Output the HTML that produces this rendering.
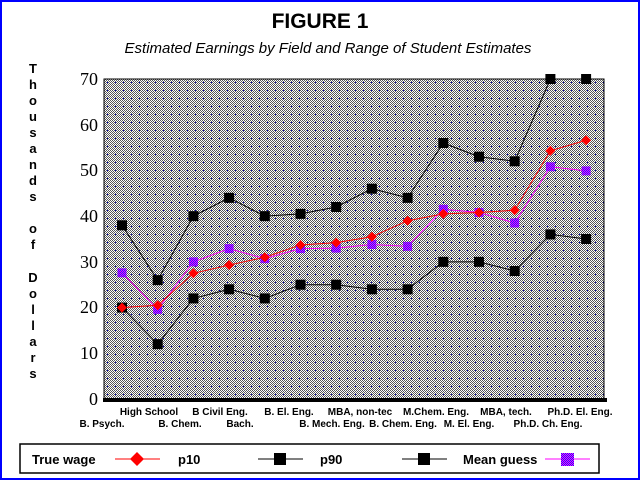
<!DOCTYPE html>
<html><head><meta charset="utf-8"><style>
html,body{margin:0;padding:0;background:#fff}
svg{display:block}
</style></head><body>
<svg width="640" height="480" viewBox="0 0 640 480" xmlns="http://www.w3.org/2000/svg">
<defs>
<pattern id="chk" width="2" height="2" patternUnits="userSpaceOnUse">
<rect width="2" height="2" fill="#ffffff"/><rect width="1" height="1" fill="#555"/><rect x="1" y="1" width="1" height="1" fill="#555"/>
</pattern>
<pattern id="dots" x="104" y="79" width="8" height="8" patternUnits="userSpaceOnUse">
<rect x="3" y="3" width="1" height="1" fill="#0000cc"/>
</pattern>
<pattern id="mchk" width="2" height="2" patternUnits="userSpaceOnUse">
<rect width="2" height="2" fill="#ff00ff"/><rect width="1" height="1" fill="#2020ff"/><rect x="1" y="1" width="1" height="1" fill="#2020ff"/>
</pattern>
</defs>
<rect x="1" y="1" width="638" height="478" fill="#fff" stroke="#0000ff" stroke-width="2"/>
<text x="320" y="28" font-family="Liberation Sans, sans-serif" font-weight="bold" font-size="21" text-anchor="middle">FIGURE 1</text>
<text x="328" y="53" font-family="Liberation Sans, sans-serif" font-style="italic" font-size="15" text-anchor="middle">Estimated Earnings by Field and Range of Student Estimates</text>
<g font-family="Liberation Sans, sans-serif" font-weight="bold" font-size="13" text-anchor="middle">
<text x="33" y="73">T</text><text x="33" y="89">h</text><text x="33" y="105">o</text><text x="33" y="121">u</text><text x="33" y="137">s</text><text x="33" y="153">a</text><text x="33" y="169">n</text><text x="33" y="185">d</text><text x="33" y="201">s</text>
<text x="33" y="233">o</text><text x="33" y="249">f</text>
<text x="33" y="282">D</text><text x="33" y="298">o</text><text x="33" y="314">l</text><text x="33" y="330">l</text><text x="33" y="346">a</text><text x="33" y="362">r</text><text x="33" y="378">s</text>
</g>
<rect x="104" y="79" width="500" height="320" fill="url(#chk)"/>
<rect x="104" y="79" width="500" height="320" fill="url(#dots)"/>
<rect x="104" y="79" width="500" height="320" fill="none" stroke="#000" stroke-width="1"/>
<rect x="103" y="398" width="504" height="4" fill="#000"/>
<g font-family="Liberation Serif, serif" font-size="18" text-anchor="end">
<text x="98" y="85">70</text><text x="98" y="131">60</text><text x="98" y="176">50</text><text x="98" y="222">40</text><text x="98" y="268">30</text><text x="98" y="313">20</text><text x="98" y="359">10</text><text x="98" y="405">0</text>
</g>
<g font-family="Liberation Sans, sans-serif" font-weight="bold" font-size="10" text-anchor="middle">
<text x="149" y="415">High School</text><text x="220" y="415">B Civil Eng.</text><text x="289" y="415">B. El. Eng.</text><text x="360" y="415">MBA, non-tec</text><text x="436" y="415">M.Chem. Eng.</text><text x="506" y="415">MBA, tech.</text><text x="580" y="415">Ph.D. El. Eng.</text>
<text x="102" y="427">B. Psych.</text><text x="180" y="427">B. Chem.</text><text x="240" y="427">Bach.</text><text x="332" y="427">B. Mech. Eng.</text><text x="403" y="427">B. Chem. Eng.</text><text x="469" y="427">M. El. Eng.</text><text x="548" y="427">Ph.D. Ch. Eng.</text>
</g>
<g id="series"></g>
<rect x="20" y="444" width="579" height="29" fill="#fff" stroke="#000" stroke-width="1.5"/>
<g font-family="Liberation Sans, sans-serif" font-weight="bold" font-size="13">
<text x="32" y="464">True wage</text><text x="178" y="464">p10</text><text x="320" y="464">p90</text><text x="463" y="464">Mean guess</text>
</g>
<line x1="115" y1="459" x2="160" y2="459" stroke="#f00"/><polygon points="137,452 144,459 137,466 130,459" fill="#f00"/>
<line x1="258" y1="459" x2="303" y2="459" stroke="#000"/><rect x="274" y="453" width="12" height="12" fill="#000"/>
<line x1="402" y1="459" x2="447" y2="459" stroke="#000"/><rect x="418" y="453" width="12" height="12" fill="#000"/>
<line x1="545" y1="459" x2="590" y2="459" stroke="#f0f"/><rect x="561" y="453" width="13" height="13" fill="url(#mchk)"/>
<script>
(function(){
var ns="http://www.w3.org/2000/svg",g=document.getElementById("series");
var X=function(i){return 122+i*35.7},Y=function(v){return 399-v*320/70};
var p90=[38,26,40,44,40,40.5,42,46,44,56,53,52,70,70];
var p10=[20,12,22,24,22,25,25,24,24,30,30,28,36,35];
var tw=[20,20.5,27.5,29.3,31,33.7,34.2,35.5,39,40.5,40.8,41.3,54.3,56.6];
var mg=[27.6,19.6,30,32.9,30.7,32.9,33,33.8,33.4,41.5,40.8,38.5,50.8,49.9];
function line(d,c){var p=document.createElementNS(ns,"polyline");p.setAttribute("points",d.map(function(v,i){return X(i)+","+Y(v)}).join(" "));p.setAttribute("fill","none");p.setAttribute("stroke",c);p.setAttribute("stroke-width","1");g.appendChild(p);}
function sq(d,f,s){d.forEach(function(v,i){var r=document.createElementNS(ns,"rect");r.setAttribute("x",X(i)-s/2);r.setAttribute("y",Y(v)-s/2);r.setAttribute("width",s);r.setAttribute("height",s);r.setAttribute("fill",f);g.appendChild(r);});}
line(p90,"#000");line(p10,"#000");line(mg,"#f0f");line(tw,"#f00");
sq(p90,"#000",10);sq(p10,"#000",10);sq(mg,"url(#mchk)",9);
tw.forEach(function(v,i){var p=document.createElementNS(ns,"polygon");var x=X(i),y=Y(v);p.setAttribute("points",x+","+(y-5)+" "+(x+5)+","+y+" "+x+","+(y+5)+" "+(x-5)+","+y);p.setAttribute("fill","#f00");g.appendChild(p);});
})();
</script>
</svg>
</body></html>
